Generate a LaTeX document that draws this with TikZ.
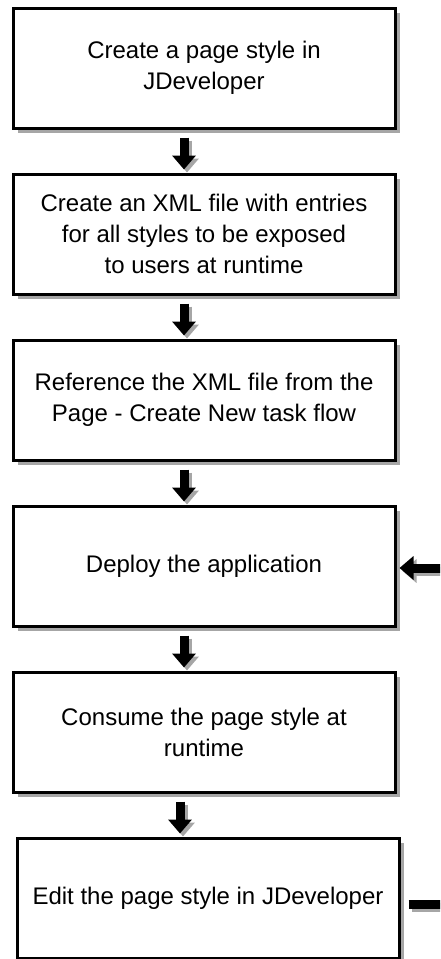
\documentclass[tikz,border=0pt]{standalone}
\usepackage{fontspec}
\setmainfont{Liberation Sans}
\usetikzlibrary{shadows, positioning, arrows.meta}
\tikzset{
    task box/.style = {draw, line width=3pt, fill=white, minimum width=382pt, minimum height=120pt,
        align=center, font=\fontsize{24}{31}\selectfont,
        drop shadow={shadow xshift=4.5pt, shadow yshift=-4.5pt, fill=gray!70, opacity=1}},
}
\tikzset{
    fat arrow/.style = {line width=9pt, -{Triangle[width=23pt, length=14pt]}},
    down/.style = {fat arrow, shorten <=8pt, shorten >=3pt},
}

\begin{document}
\begin{tikzpicture}[x=1pt, y=-1pt, every node/.style=on grid, node distance=166pt]
    \path[use as bounding box, clip] (0,0) rectangle (440,959);

    \node[task box] (create) at (204,68) {Create a page style in\\JDeveloper};
    \node[task box] (xml) [below=of create] {Create an XML file with entries\\for all styles to be exposed\\to users at runtime};
    \node[task box] (reference) [below=of xml] {Reference the XML file from the\\Page - Create New task flow};
    \node[task box] (deploy) [below=of reference] {Deploy the application};
    \node[task box] (consume) [below=of deploy] {Consume the page style at\\runtime};
    \node[task box] (edit) [below=of consume, xshift=4pt] {Edit the page style in JDeveloper};

    % shadow first, then the arrows
    \foreach \off/\col in {3pt/gray!70, 0pt/black} {
        \begin{scope}[transform canvas={shift={(\off,-\off)}}, \col]
            \draw[down] ([xshift=-20pt]create.south) -- ([xshift=-20pt]xml.north);
            \draw[down] ([xshift=-20pt]xml.south) -- ([xshift=-20pt]reference.north);
            \draw[down] ([xshift=-20pt]reference.south) -- ([xshift=-20pt]deploy.north);
            \draw[down] ([xshift=-20pt]deploy.south) -- ([xshift=-20pt]consume.north);
            \draw[down] ([xshift=-24pt]consume.south) -- ([xshift=-28pt]edit.north);
            % back to deploy
            \draw[fat arrow, shorten <=8pt, shorten >=3pt] ([yshift=-6pt]edit.east) -- ++(60pt,0) |- ([yshift=-2pt]deploy.east);
        \end{scope}
    }
\end{tikzpicture}
\end{document}
